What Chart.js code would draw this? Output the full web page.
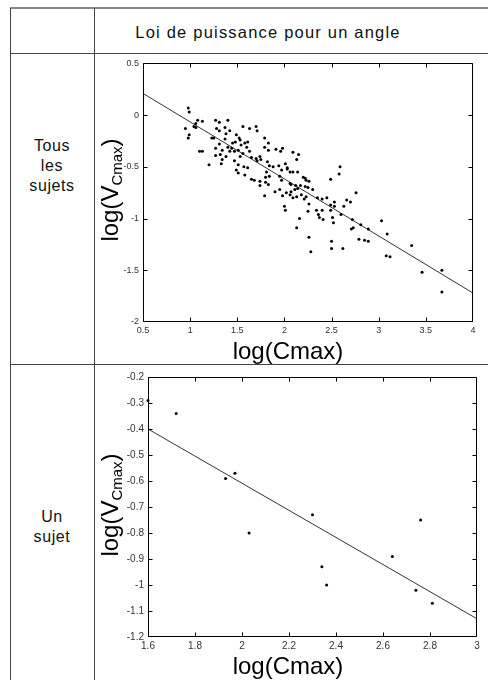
<!DOCTYPE html>
<html>
<head>
<meta charset="utf-8">
<script src="https://cdn.jsdelivr.net/npm/chart.js@4/dist/chart.umd.min.js"></script>
<style>
  html, body { margin:0; padding:0; background:#fff; }
  #page { position:relative; width:488px; height:680px; overflow:hidden; background:#fff; font-family:"Liberation Sans", Arial, sans-serif; color:#111; }
  .ln { position:absolute; background:#444; }
  .txt { position:absolute; white-space:nowrap; line-height:1; }
  .ctr { transform:translate(-50%,-50%); text-align:center; }
  .ytitle { position:absolute; white-space:nowrap; font-size:24px; line-height:1; color:#000; transform:translate(-50%,-50%) rotate(-90deg); }
  .ytitle sub { font-size:15px; vertical-align:baseline; position:relative; top:4px; }
  .xtitle { position:absolute; white-space:nowrap; font-size:24px; line-height:1; color:#000; transform:translate(-50%,-50%); }
  canvas { position:absolute; }
</style>
</head>
<body>
<div id="page">
  <div class="ln" style="left:10px; top:7px; width:478px; height:2px; background:#888;"></div>
  <div class="ln" style="left:10px; top:8px; width:1px; height:672px;"></div>
  <div class="ln" style="left:94px; top:8px; width:1px; height:672px;"></div>
  <div class="ln" style="left:10px; top:53px; width:478px; height:1px;"></div>
  <div class="ln" style="left:10px; top:364px; width:478px; height:1px;"></div>

  <div class="txt ctr" style="left:268px; top:32px; font-size:16.5px; letter-spacing:1.2px;">Loi de puissance pour un angle</div>
  <div class="txt ctr" style="left:52px; top:166px; font-size:16px; line-height:20px; letter-spacing:0.6px;">Tous<br>les<br>sujets</div>
  <div class="txt ctr" style="left:52px; top:527px; font-size:16px; line-height:20px; letter-spacing:0.6px;">Un<br>sujet</div>

  <canvas id="c1" width="393" height="309" style="left:95px; top:54px;"></canvas>
  <canvas id="c2" width="393" height="315" style="left:95px; top:365px;"></canvas>

  <div class="ytitle" style="left:110px; top:190px;">log(V<sub>Cmax</sub>)</div>
  <div class="xtitle" style="left:288px; top:351px;">log(Cmax)</div>
  <div class="ytitle" style="left:110px; top:505px;">log(V<sub>Cmax</sub>)</div>
  <div class="xtitle" style="left:288px; top:666px;">log(Cmax)</div>
</div>
<script>
// ---------- Data: all subjects ----------
const xAll = [0.98,0.99,1.08,1.13,1.06,1.04,1.06,0.95,0.99,0.98,
  1.27,1.31,1.40,1.28,1.31,1.37,1.42,1.38,1.56,1.63,
  1.70,1.71,1.49,1.52,1.53,1.23,1.25,1.37,1.31,1.27,
  1.10,1.13,1.40,1.44,1.45,1.48,1.42,1.47,1.51,1.34,
  1.32,1.38,1.27,1.34,1.33,1.20,1.54,1.58,1.61,1.60,
  1.63,1.65,1.56,1.53,1.47,1.51,1.57,1.61,1.49,1.51,
  1.58,1.70,1.74,1.79,1.83,1.79,1.83,1.91,1.96,1.98,
  1.71,1.75,1.82,1.84,1.88,1.94,2.01,2.03,2.06,2.15,
  2.14,1.81,1.84,1.80,1.65,1.68,1.74,1.74,1.80,1.83,
  1.95,1.97,2.06,2.07,2.12,1.95,1.90,2.02,2.07,2.11,
  1.98,2.06,1.79,2.09,2.13,
  2.09,2.13,1.97,2.03,2.09,2.59,2.58,2.49,2.20,2.22,
  2.23,2.26,2.14,2.17,2.22,2.25,2.30,2.23,2.26,2.35,
  2.40,2.45,2.49,2.53,2.53,2.66,2.70,2.76,2.63,
  2.18,2.21,2.00,2.01,2.16,2.25,2.34,2.36,2.37,2.40,
  2.41,2.49,2.51,2.52,2.60,2.72,2.71,2.73,2.81,2.89,
  2.13,2.26,2.50,2.50,2.62,2.28,2.79,2.85,2.89,
  3.03,3.09,3.08,3.12,3.35,3.46,3.67,3.67];
const yAll = [0.07,0.03,-0.05,-0.06,-0.08,-0.11,-0.12,-0.13,-0.19,-0.22,
  -0.05,-0.07,-0.05,-0.13,-0.15,-0.12,-0.15,-0.18,-0.11,-0.13,
  -0.11,-0.15,-0.19,-0.22,-0.24,-0.22,-0.22,-0.23,-0.28,-0.32,
  -0.35,-0.35,-0.31,-0.32,-0.27,-0.26,-0.35,-0.35,-0.34,-0.34,
  -0.38,-0.40,-0.39,-0.43,-0.47,-0.48,-0.29,-0.27,-0.26,-0.31,
  -0.35,-0.41,-0.37,-0.40,-0.44,-0.48,-0.50,-0.51,-0.53,-0.56,
  -0.58,-0.42,-0.40,-0.22,-0.27,-0.31,-0.34,-0.33,-0.35,-0.32,
  -0.44,-0.43,-0.45,-0.49,-0.50,-0.49,-0.47,-0.51,-0.55,-0.38,
  -0.55,-0.55,-0.59,-0.60,-0.62,-0.63,-0.64,-0.68,-0.65,-0.67,
  -0.59,-0.63,-0.66,-0.67,-0.68,-0.72,-0.74,-0.75,-0.74,-0.72,
  -0.78,-0.77,-0.78,-0.80,-0.79,
  -0.36,-0.43,-0.53,-0.52,-0.55,-0.50,-0.57,-0.62,-0.60,-0.61,
  -0.63,-0.64,-0.71,-0.68,-0.69,-0.70,-0.72,-0.79,-0.86,-0.80,
  -0.81,-0.80,-0.87,-0.84,-0.88,-0.82,-0.84,-0.75,-0.88,
  -0.77,-0.81,-0.88,-0.92,-1.00,-0.93,-0.92,-0.96,-0.99,-0.92,
  -1.01,-0.92,-0.99,-1.04,-0.96,-1.01,-1.10,-1.09,-1.06,-1.10,
  -1.09,-1.18,-1.22,-1.29,-1.29,-1.32,-1.20,-1.21,-1.22,
  -1.02,-1.15,-1.36,-1.37,-1.26,-1.52,-1.50,-1.71];
const fitAllX = [0.5, 4];
const fitAllY = [0.21, -1.72];
const xTicks1 = [0.5, 1, 1.5, 2, 2.5, 3, 3.5, 4];
const xTickLabels1 = ['0.5','1','1.5','2','2.5','3','3.5','4'];
const yTicks1 = [-2, -1.5, -1, -0.5, 0, 0.5];
const yTickLabels1 = ['-2','-1.5','-1','-0.5','0','0.5'];

// ---------- Data: one subject ----------
const xOne = [1.60,1.72,1.93,1.97,2.03,2.30,2.34,2.36,2.64,2.74,2.76,2.81];
const yOne = [-0.29,-0.34,-0.59,-0.57,-0.80,-0.73,-0.93,-1.00,-0.89,-1.02,-0.75,-1.07];
const fitOneX = [1.6, 3];
const fitOneY = [-0.40, -1.13];
const xTicks2 = [1.6, 1.8, 2, 2.2, 2.4, 2.6, 2.8, 3];
const xTickLabels2 = ['1.6','1.8','2','2.2','2.4','2.6','2.8','3'];
const yTicks2 = [-1.2, -1.1, -1, -0.9, -0.8, -0.7, -0.6, -0.5, -0.4, -0.3, -0.2];
const yTickLabels2 = ['-1.2','-1.1','-1','-0.9','-0.8','-0.7','-0.6','-0.5','-0.4','-0.3','-0.2'];

const framePlugin = {
  id: 'frame',
  afterDraw(chart) {
    const {ctx, chartArea: a, scales: {x, y}} = chart;
    const L = 4;
    ctx.save();
    ctx.strokeStyle = '#000';
    ctx.lineWidth = 1;
    ctx.beginPath();
    const l = Math.round(a.left) + 0.5, r = Math.round(a.right) - 0.5;
    const t = Math.round(a.top) + 0.5, b = Math.round(a.bottom) - 0.5;
    const clamp = (v, lo, hi) => Math.min(hi, Math.max(lo, v));
    ctx.rect(l, t, r - l, b - t);
    x.ticks.forEach(tk => {
      const px = clamp(Math.round(x.getPixelForValue(tk.value)) + 0.5, l, r);
      ctx.moveTo(px, b); ctx.lineTo(px, b - L);
      ctx.moveTo(px, t); ctx.lineTo(px, t + L);
    });
    y.ticks.forEach(tk => {
      const py = clamp(Math.round(y.getPixelForValue(tk.value)) + 0.5, t, b);
      ctx.moveTo(l, py); ctx.lineTo(l + L, py);
      ctx.moveTo(r, py); ctx.lineTo(r - L, py);
    });
    ctx.stroke();
    ctx.restore();
  }
};

function makeChart(id, xs, ys, fx, fy, xt, xl, yt, yl, xmin, xmax, ymin, ymax, pad, yW, xH, fontSize) {
  const pts = xs.map((v, i) => ({x: v, y: ys[i]}));
  const fit = fx.map((v, i) => ({x: v, y: fy[i]}));
  const tickFont = {family: '"Liberation Sans", Arial, sans-serif', size: fontSize};
  return new Chart(document.getElementById(id), {
    type: 'scatter',
    data: {
      datasets: [
        {data: pts, pointRadius: 1.5, pointHoverRadius: 1.5, backgroundColor: '#000', borderColor: '#000', borderWidth: 0, showLine: false, clip: 4},
        {type: 'line', data: fit, borderColor: '#333', borderWidth: 1, pointRadius: 0, showLine: true, fill: false, tension: 0}
      ]
    },
    options: {
      responsive: false,
      animation: false,
      devicePixelRatio: 1,
      layout: {padding: pad},
      plugins: {legend: {display: false}, tooltip: {enabled: false}},
      scales: {
        x: {
          type: 'linear', min: xmin, max: xmax,
          grid: {display: false, drawTicks: false},
          border: {display: false},
          afterBuildTicks: s => { s.ticks = xt.map(v => ({value: v})); },
          afterFit: s => { s.height = xH; },
          ticks: {autoSkip: false, maxRotation: 0, padding: 3, color: '#333', font: tickFont,
                  callback: v => xl[xt.indexOf(v)]}
        },
        y: {
          type: 'linear', min: ymin, max: ymax,
          grid: {display: false, drawTicks: false},
          border: {display: false},
          afterBuildTicks: s => { s.ticks = yt.map(v => ({value: v})); },
          afterFit: s => { s.width = yW; },
          ticks: {autoSkip: false, padding: 4, color: '#333', font: tickFont,
                  callback: v => yl[yt.indexOf(v)]}
        }
      }
    },
    plugins: [framePlugin]
  });
}

makeChart('c1', xAll, yAll, fitAllX, fitAllY, xTicks1, xTickLabels1, yTicks1, yTickLabels1,
  0.5, 4, -2, 0.5, {top: 9, right: 15, left: 0, bottom: 0}, 48, 41, 9);
makeChart('c2', xOne, yOne, fitOneX, fitOneY, xTicks2, xTickLabels2, yTicks2, yTickLabels2,
  1.6, 3, -1.2, -0.2, {top: 12, right: 11, left: 0, bottom: 0}, 53, 43, 10);
</script>
</body>
</html>
